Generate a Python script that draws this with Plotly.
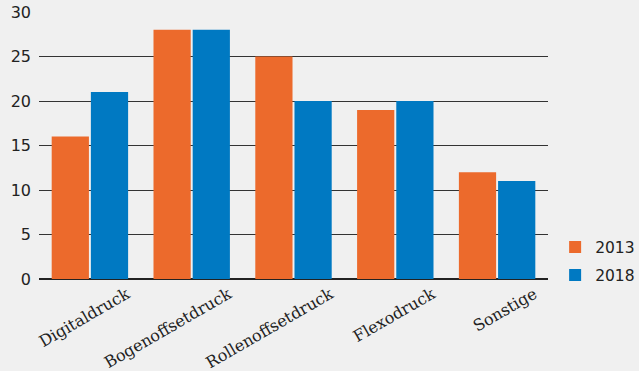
import plotly.graph_objects as go

categories = ["Digitaldruck", "Bogenoffsetdruck", "Rollenoffsetdruck", "Flexodruck", "Sonstige"]
values_2013 = [16, 28, 25, 19, 12]
values_2018 = [21, 28, 20, 20, 11]
y_ticks = [0, 5, 10, 15, 20, 25, 30]

fig = go.Figure()
fig.add_trace(go.Bar(x=categories, y=values_2013, name="2013", marker_color="#EC6A2C",
                     marker_line_width=0, legendgroup="a"))
fig.add_trace(go.Bar(x=categories, y=values_2018, name="2018", marker_color="#0079C2",
                     marker_line_width=0, legendgroup="b"))

fig.update_layout(
    width=639, height=371,
    margin=dict(l=39, r=91, t=12, b=92, autoexpand=False),
    paper_bgcolor="#f0f0f0", plot_bgcolor="#f0f0f0",
    barmode="group", bargap=0.23, bargroupgap=0.05,
    showlegend=True,
    legend=dict(x=1.014, y=-0.05, xanchor="left", yanchor="bottom",
                traceorder="grouped", tracegroupgap=5, itemwidth=30,
                font=dict(family="DejaVu Sans", size=15.5, color="#222"),
                bgcolor="rgba(0,0,0,0)"),
    xaxis=dict(tickangle=-30, tickfont=dict(family="DejaVu Serif", size=16, color="#222"),
               showgrid=False, showline=False, ticks="", automargin=False,
               ticklabelshift=37, ticklabelstandoff=2),
    yaxis=dict(range=[0, 30], tickvals=y_ticks, showgrid=True, gridcolor="#333", gridwidth=1,
               zeroline=True, zerolinecolor="#222", zerolinewidth=1.5, automargin=False,
               ticklabelstandoff=7,
               tickfont=dict(family="DejaVu Sans", size=16, color="#222"), ticks=""),
)
fig.write_html("out.html", config={"displayModeBar": False},
               post_script="document.body.style.margin='0';document.body.style.background='#f0f0f0';")
